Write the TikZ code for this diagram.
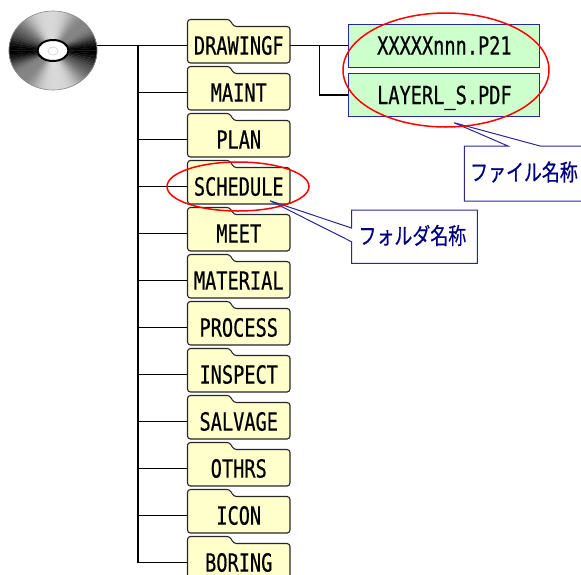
\documentclass[tikz,border=0pt]{standalone}
\usepackage{fontspec}
\usepackage{xcolor}
\usepackage{tikz}
\usetikzlibrary{calc,positioning}
\newfontfamily\monofont[FakeStretch=0.745,FakeBold=0.6]{DejaVu Sans Mono}
\newfontfamily\jpfont[FakeStretch=0.78,FakeBold=0.5]{Noto Sans CJK JP}
\definecolor{folderfill}{RGB}{255,255,204}
\definecolor{filefill}{RGB}{204,255,204}
\definecolor{calltextblue}{RGB}{0,0,128}
\definecolor{boxblue}{RGB}{40,40,150}

\begin{document}
\begin{tikzpicture}[x=1pt,y=-1pt,
    folder/.style={draw=black!85, fill=folderfill, line width=1.1pt, rounded corners=3pt},
    foldertext/.style={minimum width=102.5pt, minimum height=36.5pt, inner sep=0pt,
        text height=18.2pt, text depth=0pt, font=\monofont\fontsize{25}{25}\selectfont},
    filebox/.style={draw=boxblue, fill=filefill, line width=1pt, minimum width=191pt,
        minimum height=43pt, inner sep=0pt, text height=18.2pt, text depth=0pt,
        font=\monofont\fontsize{25}{25}\selectfont},
    wire/.style={line width=1.2pt},
    callout/.style={draw=boxblue, fill=white, line width=1pt, line join=miter},
    calltext/.style={text=calltextblue, inner sep=0pt, font=\jpfont\fontsize{23}{23}\selectfont},
    ring/.style={draw=red, line width=1.5pt}]
    \clip (0,0) rectangle (581,574);

    % Disc
    \foreach \a in {0,4,...,356}{
        \pgfmathsetmacro\k{min(100,max(0,100*(0.15+0.85*abs(cos(\a+2))^8+0.3*abs(cos(\a+2-40))^16+0.3*abs(cos(\a+2-130))^16)))}
        \fill[black!\k, draw=black!\k, line width=0.3pt] (53,50.5)
            -- ({53+44*cos(\a)},{50.5+39.5*sin(\a)})
            -- ({53+44*cos(\a+2)},{50.5+39.5*sin(\a+2)})
            -- ({53+44*cos(\a+4)},{50.5+39.5*sin(\a+4)}) -- cycle;
    }
    \draw[black!45, line width=0.6pt] (53,50.5) ellipse [x radius=44, y radius=39.5];
    \draw[line width=2pt, fill=white] (53,50.5) ellipse [x radius=15.5, y radius=10.5];
    \draw[black!15, line width=0.8pt] (53,51) ellipse [x radius=5, y radius=4];
    \coordinate (cd) at (96.6,45.5);
    \coordinate (trunk) at (138,0);

    % Folders
    \foreach \name [count=\i from 0] in {DRAWINGF,MAINT,PLAN,SCHEDULE,MEET,MATERIAL,PROCESS,INSPECT,SALVAGE,OTHRS,ICON,BORING}{
        \pgfmathsetmacro\ytop{19.5+47*\i}
        \draw[folder] (187.5,\ytop+43.5) -- (187.5,\ytop) -- (230,\ytop) -- (233.5,\ytop+7)
            -- (290,\ytop+7) -- (290,\ytop+43.5) -- cycle;
        \node[foldertext] (fold\i) at (238.75,\ytop+26) {\name};
        \draw[wire] (fold\i.west -| trunk) -- (fold\i.west);
    }
    \draw[wire] (cd) -- (fold0.west);
    \draw[wire] (fold0.west -| trunk) -- (fold11.west -| trunk);

    % Files
    \node[filebox] (p21) at (444.4,45.5) {XXXXXnnn.P21};
    \node[filebox] (pdf) at (444.4,95) {LAYERL\_S.PDF};
    \coordinate (split) at ($(fold0.east)!0.5!(p21.west)$);
    \draw[wire] (fold0.east) -- (p21.west);
    \draw[wire] (split) |- (pdf.west);

    % Callouts
    \draw[callout] (464.3,146) -- (508,146) -- (454,122.7) -- (540,146) -- (600,146)
        -- (600,201) -- (464.3,201) -- cycle;
    \node[calltext] (filelabel) at (524,172) {ファイル名称};
    \draw[callout] (351.5,210) -- (477.3,210) -- (477.3,263.3) -- (351.5,263.3)
        -- (351.5,241.7) -- (270,200.7) -- (351.5,228) -- cycle;
    \node[calltext] (folderlabel) at (412.4,235.5) {フォルダ名称};

    % Marks
    \draw[ring] (446,70) ellipse [x radius=103, y radius=57];
    \draw[ring] (238,186.5) ellipse [x radius=71, y radius=24.5];
\end{tikzpicture}
\end{document}
